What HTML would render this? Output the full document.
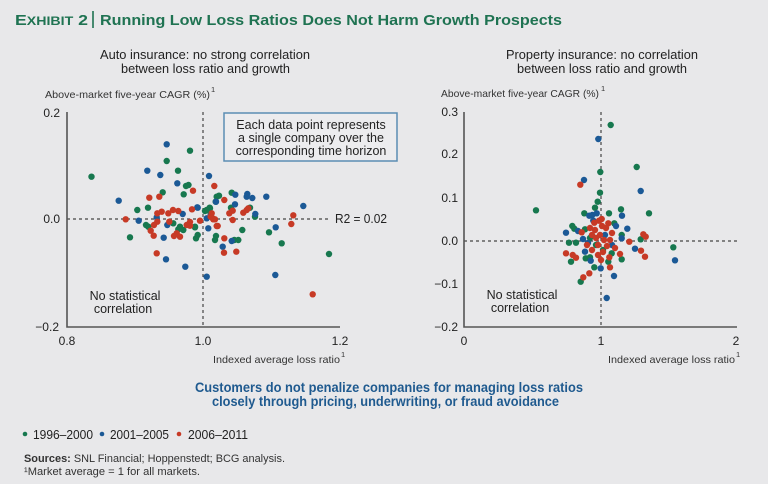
<!DOCTYPE html>
<html><head><meta charset="utf-8"><style>
html,body{margin:0;padding:0;background:#e8e8ea;}
svg{display:block;}
text{font-family:"Liberation Sans",sans-serif;}
</style></head><body>
<svg width="768" height="484" viewBox="0 0 768 484" xmlns="http://www.w3.org/2000/svg">
<rect width="768" height="484" fill="#e8e8ea"/>
<!-- Title -->
<text x="15" y="25" font-weight="bold" fill="#1f7352" font-size="15" textLength="73" lengthAdjust="spacingAndGlyphs">E<tspan font-size="12">XHIBIT</tspan> 2</text>
<line x1="93" y1="11" x2="93" y2="28" stroke="#1f7352" stroke-width="1.6"/>
<text x="100" y="25" font-weight="bold" fill="#1f7352" font-size="15" textLength="462" lengthAdjust="spacingAndGlyphs">Running Low Loss Ratios Does Not Harm Growth Prospects</text>

<!-- Subtitles -->
<g font-size="12.5" fill="#222">
<text x="100" y="59" textLength="210" lengthAdjust="spacingAndGlyphs">Auto insurance: no strong correlation</text>
<text x="121" y="73" textLength="169" lengthAdjust="spacingAndGlyphs">between loss ratio and growth</text>
<text x="506" y="59" textLength="192" lengthAdjust="spacingAndGlyphs">Property insurance: no correlation</text>
<text x="517" y="73" textLength="170" lengthAdjust="spacingAndGlyphs">between loss ratio and growth</text>
</g>

<!-- y axis labels -->
<g font-size="10.5" fill="#333">
<text x="45" y="98" textLength="165" lengthAdjust="spacingAndGlyphs">Above-market five-year CAGR (%)</text>
<text x="211" y="92" font-size="7.5">1</text>
<text x="441" y="97" textLength="158" lengthAdjust="spacingAndGlyphs">Above-market five-year CAGR (%)</text>
<text x="601" y="91" font-size="7.5">1</text>
<text x="213" y="363" textLength="127" lengthAdjust="spacingAndGlyphs">Indexed average loss ratio</text>
<text x="341" y="357" font-size="7.5">1</text>
<text x="608" y="363" textLength="127" lengthAdjust="spacingAndGlyphs">Indexed average loss ratio</text>
<text x="736" y="357" font-size="7.5">1</text>
</g>

<!-- Left chart axes -->
<g font-size="12" fill="#222">
<text x="60" y="117" text-anchor="end">0.2</text>
<text x="60" y="223" text-anchor="end">0.0</text>
<text x="59" y="331" text-anchor="end">−0.2</text>
<text x="67" y="345" text-anchor="middle">0.8</text>
<text x="203" y="345" text-anchor="middle">1.0</text>
<text x="340" y="345" text-anchor="middle">1.2</text>
<text x="458" y="116" text-anchor="end">0.3</text>
<text x="458" y="158" text-anchor="end">0.2</text>
<text x="458" y="202" text-anchor="end">0.1</text>
<text x="458" y="245" text-anchor="end">0.0</text>
<text x="458" y="288" text-anchor="end">−0.1</text>
<text x="458" y="331" text-anchor="end">−0.2</text>
<text x="464" y="345" text-anchor="middle">0</text>
<text x="601" y="345" text-anchor="middle">1</text>
<text x="736" y="345" text-anchor="middle">2</text>
</g>

<g stroke="#444" stroke-width="1.2" stroke-dasharray="3,3" fill="none">
<line x1="203" y1="112" x2="203" y2="327"/>
<line x1="67" y1="219" x2="331" y2="219"/>
<line x1="601" y1="112" x2="601" y2="327"/>
<line x1="464" y1="241" x2="738" y2="241"/>
</g>
<g stroke="#555" stroke-width="1.6" fill="none">
<polyline points="67,112 67,327 340,327"/>
<polyline points="464,112 464,327 737,327"/>
</g>

<text x="335" y="223" font-size="12.5" fill="#222" textLength="52" lengthAdjust="spacingAndGlyphs">R2 = 0.02</text>

<!-- box -->
<rect x="224" y="113" width="173" height="48" fill="#ececee" stroke="#5b8db3" stroke-width="1.5"/>
<g font-size="12.5" fill="#222" text-anchor="middle">
<text x="311" y="129">Each data point represents</text>
<text x="311" y="142">a single company over the</text>
<text x="311" y="155">corresponding time horizon</text>
</g>

<g font-size="12.5" fill="#222" text-anchor="middle">
<text x="125" y="300">No statistical</text>
<text x="123" y="313">correlation</text>
<text x="522" y="299">No statistical</text>
<text x="520" y="312">correlation</text>
</g>

<!-- Left dots -->
<g fill="#17784f">
<circle cx="91.5" cy="176.7" r="3.2"/><circle cx="190" cy="150.7" r="3.2"/><circle cx="166.7" cy="161" r="3.2"/><circle cx="178" cy="170.7" r="3.2"/><circle cx="186" cy="186" r="3.2"/><circle cx="188.5" cy="185" r="3.2"/><circle cx="183.7" cy="194.3" r="3.2"/><circle cx="162.7" cy="192.3" r="3.2"/><circle cx="216.7" cy="196.7" r="3.2"/><circle cx="219" cy="195.7" r="3.2"/><circle cx="215.7" cy="201.7" r="3.2"/><circle cx="137.3" cy="210" r="3.2"/><circle cx="148" cy="207.7" r="3.2"/><circle cx="205" cy="211" r="3.2"/><circle cx="209.7" cy="207.7" r="3.2"/><circle cx="146" cy="225" r="3.2"/><circle cx="148.3" cy="226.7" r="3.2"/><circle cx="173.3" cy="223.3" r="3.2"/><circle cx="180" cy="226.7" r="3.2"/><circle cx="183.3" cy="230" r="3.2"/><circle cx="178.3" cy="229.3" r="3.2"/><circle cx="195" cy="227.3" r="3.2"/><circle cx="130" cy="237.3" r="3.2"/><circle cx="197.7" cy="235" r="3.2"/><circle cx="196" cy="238.3" r="3.2"/><circle cx="216" cy="236" r="3.2"/><circle cx="215" cy="240" r="3.2"/><circle cx="231.7" cy="192.7" r="3.2"/><circle cx="231" cy="207.7" r="3.2"/><circle cx="250" cy="207.7" r="3.2"/><circle cx="255" cy="216.7" r="3.2"/><circle cx="206.7" cy="210" r="3.2"/><circle cx="210" cy="208.3" r="3.2"/><circle cx="210.7" cy="213.3" r="3.2"/><circle cx="195" cy="226.7" r="3.2"/><circle cx="242.3" cy="230" r="3.2"/><circle cx="269" cy="232.3" r="3.2"/><circle cx="281.7" cy="243.3" r="3.2"/><circle cx="234.3" cy="240" r="3.2"/><circle cx="238.3" cy="240" r="3.2"/><circle cx="329" cy="254" r="3.2"/>
</g>
<g fill="#1b5996">
<circle cx="166.7" cy="144.3" r="3.2"/><circle cx="147.3" cy="170.7" r="3.2"/><circle cx="160.3" cy="175" r="3.2"/><circle cx="177.3" cy="183.3" r="3.2"/><circle cx="118.7" cy="200.7" r="3.2"/><circle cx="209" cy="176" r="3.2"/><circle cx="182.7" cy="214" r="3.2"/><circle cx="197.7" cy="207.7" r="3.2"/><circle cx="138.7" cy="220.7" r="3.2"/><circle cx="156.7" cy="217.3" r="3.2"/><circle cx="167.3" cy="225" r="3.2"/><circle cx="206.7" cy="218.3" r="3.2"/><circle cx="210.7" cy="215" r="3.2"/><circle cx="208.3" cy="228.3" r="3.2"/><circle cx="163.7" cy="237.7" r="3.2"/><circle cx="222.7" cy="246.7" r="3.2"/><circle cx="166" cy="259.3" r="3.2"/><circle cx="185.3" cy="266.7" r="3.2"/><circle cx="216" cy="201.7" r="3.2"/><circle cx="235.3" cy="194.7" r="3.2"/><circle cx="247.3" cy="194" r="3.2"/><circle cx="246.7" cy="196.7" r="3.2"/><circle cx="252.3" cy="198" r="3.2"/><circle cx="266.3" cy="196.7" r="3.2"/><circle cx="303.3" cy="206" r="3.2"/><circle cx="235" cy="204.3" r="3.2"/><circle cx="255.3" cy="214" r="3.2"/><circle cx="197.3" cy="207.3" r="3.2"/><circle cx="275.7" cy="227.3" r="3.2"/><circle cx="231.7" cy="241" r="3.2"/><circle cx="206.7" cy="276.7" r="3.2"/><circle cx="275.3" cy="275" r="3.2"/>
</g>
<g fill="#c73a26">
<circle cx="193" cy="190.7" r="3.2"/><circle cx="149.3" cy="197.7" r="3.2"/><circle cx="159.3" cy="196.7" r="3.2"/><circle cx="214.3" cy="186" r="3.2"/><circle cx="224.3" cy="200" r="3.2"/><circle cx="157.3" cy="213.3" r="3.2"/><circle cx="161.7" cy="211.7" r="3.2"/><circle cx="168.3" cy="213.3" r="3.2"/><circle cx="173" cy="210" r="3.2"/><circle cx="178.3" cy="211" r="3.2"/><circle cx="192" cy="209.3" r="3.2"/><circle cx="125.7" cy="219.3" r="3.2"/><circle cx="157.3" cy="221.7" r="3.2"/><circle cx="150.7" cy="230.7" r="3.2"/><circle cx="154" cy="225" r="3.2"/><circle cx="169.3" cy="221.7" r="3.2"/><circle cx="176.7" cy="233.3" r="3.2"/><circle cx="174" cy="236" r="3.2"/><circle cx="180" cy="236.7" r="3.2"/><circle cx="186.7" cy="225" r="3.2"/><circle cx="190" cy="225.7" r="3.2"/><circle cx="200" cy="220.7" r="3.2"/><circle cx="212.7" cy="218.3" r="3.2"/><circle cx="215" cy="219.3" r="3.2"/><circle cx="217.7" cy="226" r="3.2"/><circle cx="153.7" cy="235.7" r="3.2"/><circle cx="224.3" cy="238.3" r="3.2"/><circle cx="224" cy="252.7" r="3.2"/><circle cx="156.7" cy="253.3" r="3.2"/><circle cx="232.7" cy="210.7" r="3.2"/><circle cx="229.3" cy="213.3" r="3.2"/><circle cx="243.3" cy="212.7" r="3.2"/><circle cx="246.7" cy="210" r="3.2"/><circle cx="248.3" cy="208.3" r="3.2"/><circle cx="293.3" cy="215.3" r="3.2"/><circle cx="291.3" cy="224" r="3.2"/><circle cx="232.7" cy="220" r="3.2"/><circle cx="210.7" cy="216.7" r="3.2"/><circle cx="213.3" cy="219.3" r="3.2"/><circle cx="211.7" cy="213.3" r="3.2"/><circle cx="216.7" cy="226" r="3.2"/><circle cx="236.3" cy="251.7" r="3.2"/><circle cx="312.7" cy="294.3" r="3.2"/><circle cx="190" cy="222" r="3.2"/>
</g>

<!-- Right dots -->
<g fill="#17784f">
<circle cx="610.7" cy="125" r="3.2"/><circle cx="600.3" cy="172" r="3.2"/><circle cx="600" cy="192.7" r="3.2"/><circle cx="636.7" cy="167" r="3.2"/><circle cx="536" cy="210.3" r="3.2"/><circle cx="649" cy="213.3" r="3.2"/><circle cx="597.7" cy="201.7" r="3.2"/><circle cx="595" cy="207.7" r="3.2"/><circle cx="584.3" cy="213.3" r="3.2"/><circle cx="609" cy="213.3" r="3.2"/><circle cx="621" cy="209.3" r="3.2"/><circle cx="614.3" cy="223.3" r="3.2"/><circle cx="572.3" cy="226" r="3.2"/><circle cx="574.3" cy="228.7" r="3.2"/><circle cx="585" cy="229.3" r="3.2"/><circle cx="621.7" cy="235" r="3.2"/><circle cx="640.7" cy="239.3" r="3.2"/><circle cx="569" cy="242.7" r="3.2"/><circle cx="576" cy="242.7" r="3.2"/><circle cx="571" cy="261.7" r="3.2"/><circle cx="611.7" cy="253.3" r="3.2"/><circle cx="621.7" cy="259.3" r="3.2"/><circle cx="585.7" cy="258.3" r="3.2"/><circle cx="590" cy="257.3" r="3.2"/><circle cx="608.3" cy="261.7" r="3.2"/><circle cx="594.3" cy="267.3" r="3.2"/><circle cx="580.7" cy="281.7" r="3.2"/><circle cx="673.3" cy="247.3" r="3.2"/><circle cx="596" cy="245" r="3.2"/><circle cx="590" cy="238" r="3.2"/><circle cx="603" cy="250" r="3.2"/>
</g>
<g fill="#1b5996">
<circle cx="598.3" cy="139" r="3.2"/><circle cx="584" cy="180" r="3.2"/><circle cx="640.7" cy="191" r="3.2"/><circle cx="589.3" cy="215.7" r="3.2"/><circle cx="592.3" cy="215" r="3.2"/><circle cx="596.7" cy="213.3" r="3.2"/><circle cx="622" cy="215.7" r="3.2"/><circle cx="593.3" cy="220.7" r="3.2"/><circle cx="616" cy="226" r="3.2"/><circle cx="627.3" cy="228.7" r="3.2"/><circle cx="566" cy="232.7" r="3.2"/><circle cx="578" cy="231" r="3.2"/><circle cx="621.7" cy="238.3" r="3.2"/><circle cx="635" cy="248.7" r="3.2"/><circle cx="585" cy="251.7" r="3.2"/><circle cx="590.7" cy="260.7" r="3.2"/><circle cx="600.7" cy="268.3" r="3.2"/><circle cx="614" cy="276" r="3.2"/><circle cx="606.7" cy="298" r="3.2"/><circle cx="675" cy="260.3" r="3.2"/><circle cx="588" cy="243" r="3.2"/><circle cx="605" cy="235" r="3.2"/><circle cx="583" cy="239" r="3.2"/><circle cx="612" cy="245" r="3.2"/>
</g>
<g fill="#c73a26">
<circle cx="580.3" cy="184.7" r="3.2"/><circle cx="599" cy="220.7" r="3.2"/><circle cx="601.7" cy="219" r="3.2"/><circle cx="594.3" cy="222.7" r="3.2"/><circle cx="608.3" cy="223.3" r="3.2"/><circle cx="581.7" cy="232.3" r="3.2"/><circle cx="629.3" cy="241.7" r="3.2"/><circle cx="643.3" cy="234.3" r="3.2"/><circle cx="645.7" cy="236.7" r="3.2"/><circle cx="641" cy="250.7" r="3.2"/><circle cx="645" cy="256.7" r="3.2"/><circle cx="566" cy="253.3" r="3.2"/><circle cx="572.7" cy="255" r="3.2"/><circle cx="576" cy="257.7" r="3.2"/><circle cx="601" cy="260" r="3.2"/><circle cx="609.3" cy="257.3" r="3.2"/><circle cx="610" cy="267.3" r="3.2"/><circle cx="589.3" cy="273.3" r="3.2"/><circle cx="583.3" cy="277.3" r="3.2"/><circle cx="620" cy="254" r="3.2"/><circle cx="595" cy="230" r="3.2"/><circle cx="600" cy="235" r="3.2"/><circle cx="604" cy="240" r="3.2"/><circle cx="598" cy="245" r="3.2"/><circle cx="592" cy="250" r="3.2"/><circle cx="606" cy="228" r="3.2"/><circle cx="612" cy="233" r="3.2"/><circle cx="590" cy="228" r="3.2"/><circle cx="596" cy="238" r="3.2"/><circle cx="602" cy="226" r="3.2"/><circle cx="610" cy="240" r="3.2"/><circle cx="615" cy="248" r="3.2"/><circle cx="587" cy="245" r="3.2"/><circle cx="598" cy="255" r="3.2"/><circle cx="603" cy="252" r="3.2"/><circle cx="592" cy="235" r="3.2"/><circle cx="607" cy="246" r="3.2"/>
</g>

<!-- Bottom blue text -->
<g font-size="13.5" font-weight="bold" fill="#1f5a8f">
<text x="195" y="392" textLength="388" lengthAdjust="spacingAndGlyphs">Customers do not penalize companies for managing loss ratios</text>
<text x="212" y="406" textLength="347" lengthAdjust="spacingAndGlyphs">closely through pricing, underwriting, or fraud avoidance</text>
</g>

<!-- Legend -->
<circle cx="25" cy="434" r="2.3" fill="#17784f"/>
<circle cx="102" cy="434" r="2.3" fill="#1b5996"/>
<circle cx="179" cy="434" r="2.3" fill="#c73a26"/>
<g font-size="12.5" fill="#222">
<text x="33" y="439" textLength="60" lengthAdjust="spacingAndGlyphs">1996–2000</text>
<text x="110" y="439" textLength="59" lengthAdjust="spacingAndGlyphs">2001–2005</text>
<text x="188" y="439" textLength="60" lengthAdjust="spacingAndGlyphs">2006–2011</text>
</g>

<!-- Sources -->
<g font-size="11" fill="#333">
<text x="24" y="462" textLength="261" lengthAdjust="spacingAndGlyphs"><tspan font-weight="bold">Sources:</tspan> SNL Financial; Hoppenstedt; BCG analysis.</text>
<text x="24" y="475" textLength="176" lengthAdjust="spacingAndGlyphs">¹Market average = 1 for all markets.</text>
</g>
</svg>
</body></html>
